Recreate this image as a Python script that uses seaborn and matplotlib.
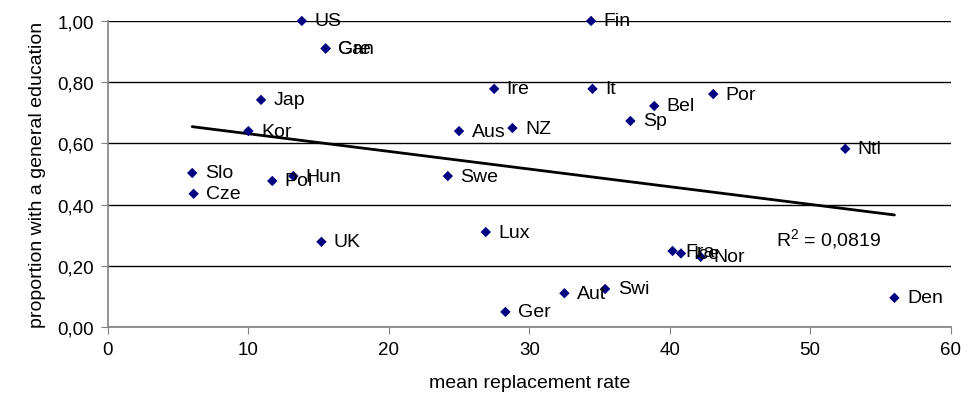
import matplotlib.pyplot as plt
import matplotlib.ticker as mticker
import pandas as pd
import seaborn as sns

# country codes as labelled in the source chart
countries = [
    "US", "Can", "Gre", "Fin", "Jap", "Ire", "It", "Bel", "Por", "Kor",
    "Aus", "NZ", "Sp", "Ntl", "Slo", "Cze", "Pol", "Hun", "Swe", "UK",
    "Lux", "Fra", "Ice", "Nor", "Ger", "Aut", "Swi", "Den",
]
replacement_rate = [
    13.8, 15.5, 15.5, 34.4, 10.9, 27.5, 34.5, 38.9, 43.1, 10.0,
    25.0, 28.8, 37.2, 52.5, 6.0, 6.1, 11.7, 13.2, 24.2, 15.2,
    26.9, 40.2, 40.8, 42.2, 28.3, 32.5, 35.4, 56.0,
]
general_share = [
    1.00, 0.91, 0.91, 1.00, 0.742, 0.778, 0.778, 0.722, 0.761, 0.64,
    0.64, 0.65, 0.673, 0.582, 0.503, 0.435, 0.477, 0.493, 0.493, 0.278,
    0.31, 0.248, 0.24, 0.229, 0.049, 0.11, 0.124, 0.095,
]
r2_text = "R$^2$ = 0,0819"

df = pd.DataFrame(
    {"country": countries, "rate": replacement_rate, "share": general_share}
)

sns.set_style("white")
plt.rcParams["font.family"] = ["Liberation Sans", "DejaVu Sans"]
plt.rcParams["mathtext.fontset"] = "custom"
plt.rcParams["mathtext.rm"] = "Liberation Sans"
plt.rcParams["mathtext.default"] = "regular"
plt.rcParams["text.color"] = "black"
plt.rcParams["axes.labelcolor"] = "black"
plt.rcParams["xtick.color"] = "black"
plt.rcParams["ytick.color"] = "black"

fig, ax = plt.subplots(figsize=(9.77, 4.14), dpi=100)
fig.subplots_adjust(left=0.1105, right=0.973, top=0.947, bottom=0.208)

sns.regplot(
    data=df, x="rate", y="share", ax=ax, ci=None, truncate=True,
    scatter=False, line_kws=dict(color="black", lw=2),
)
sns.scatterplot(
    data=df, x="rate", y="share", ax=ax, marker="D", color="#000080",
    s=28, edgecolor="none", zorder=3, clip_on=False,
)

for name, x, y in zip(countries, replacement_rate, general_share):
    ax.annotate(
        name, (x, y), xytext=(9, 0), textcoords="offset points",
        va="center", ha="left", fontsize=14, annotation_clip=False,
    )

ax.text(47.6, 0.29, r2_text, fontsize=14, va="center", ha="left")

ax.set_xlim(0, 60)
ax.set_ylim(0, 1)
ax.set_xticks(range(0, 61, 10))
ax.set_yticks([0, 0.2, 0.4, 0.6, 0.8, 1.0])
ax.yaxis.set_major_formatter(
    mticker.FuncFormatter(lambda v, _: f"{v:.2f}".replace(".", ","))
)
ax.yaxis.grid(True, color="black", lw=1)
ax.set_axisbelow(True)

for side in ["top", "right"]:
    ax.spines[side].set_visible(False)
for side in ["left", "bottom"]:
    ax.spines[side].set_color("#808080")
    ax.spines[side].set_linewidth(1.2)
ax.tick_params(direction="out", length=5, color="#808080", labelsize=13.5,
               left=True, bottom=True, pad=5)

ax.set_xlabel("mean replacement rate", fontsize=14, labelpad=12)
ax.set_ylabel("proportion with a general education", fontsize=14,
              labelpad=8)

fig.savefig("out.png", dpi=100)
